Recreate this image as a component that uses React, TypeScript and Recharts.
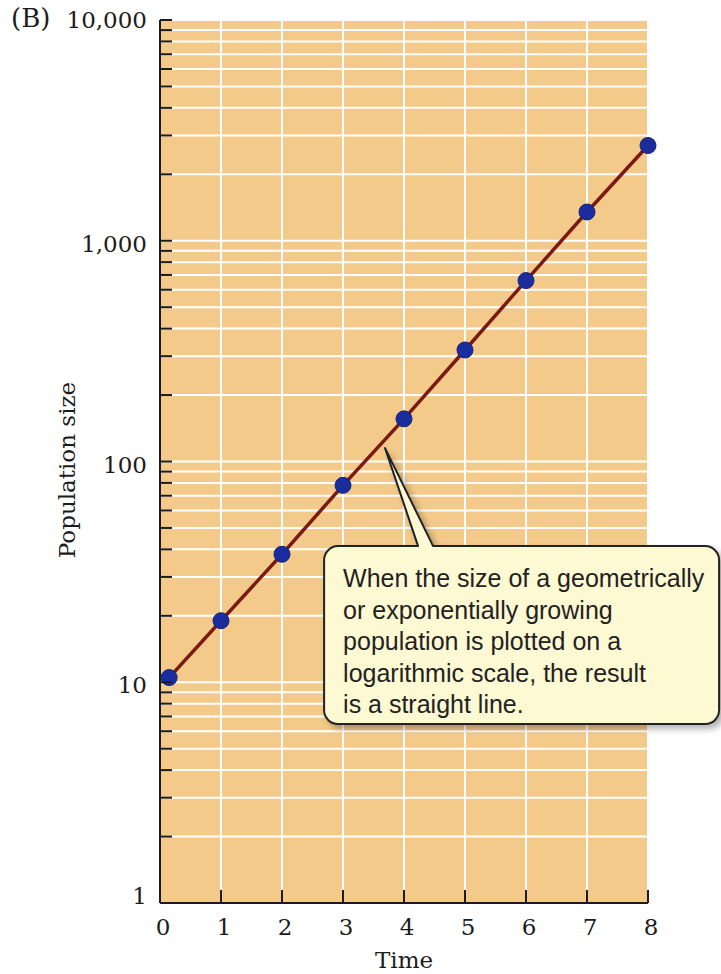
import { LineChart, Line, XAxis, YAxis, CartesianGrid, ReferenceDot, Label } from 'recharts';

const times = [0.15, 1, 2, 3, 4, 5, 6, 7, 8];
const populationSizes = [10.5, 19, 38, 78, 156, 320, 660, 1350, 2700];
const timeTicks = [0, 1, 2, 3, 4, 5, 6, 7, 8];
const majorTicks = [1, 10, 100, 1000, 10000];
const minorMultiples = [2, 3, 4, 5, 6, 7, 8, 9];
const calloutLines = [
  'When the size of a geometrically',
  'or exponentially growing',
  'population is plotted on a',
  'logarithmic scale, the result',
  'is a straight line.',
];

const data = times.map((time, i) => ({ time, size: populationSizes[i] }));
const sizeTicks = majorTicks.flatMap((m, i) =>
  i === majorTicks.length - 1 ? [m] : [m, ...minorMultiples.map((k) => k * m)]
);

const serif = 'DejaVu Serif';
const ink = '#1c1c1c';

function SizeTick({ x, y, payload }: any) {
  const v = payload.value;
  const major = majorTicks.includes(v);
  // the ends of the scale sit a bit inward, the middle labels a bit low
  const shift = v === 1 ? -7 : v === 10000 ? 0 : 3;
  return (
    <g>
      <line x1={x} x2={x + 12} y1={y} y2={y} stroke={ink} strokeWidth={2} />
      {major && (
        <text x={x - 13} y={y + shift} dy="0.35em" textAnchor="end" fontFamily={serif} fontSize={23} fill={ink}>
          {v.toLocaleString('en-US')}
        </text>
      )}
    </g>
  );
}

function TimeTick({ x, y, payload }: any) {
  return (
    <g>
      <line x1={x} x2={x} y1={y} y2={y - 13} stroke={ink} strokeWidth={2} />
      <text x={x + 3} y={y + 24} dy="0.35em" textAnchor="middle" fontFamily={serif} fontSize={23} fill={ink}>
        {payload.value}
      </text>
    </g>
  );
}

function Callout({ cx, cy }: any) {
  const left = cx - 61;
  const top = cy + 98;
  const right = cx + 334;
  const bottom = cy + 276;
  const r = 14;
  const d = `M${left + r},${top} L${cx + 33},${top} L${cx},${cy} L${cx + 48},${top} L${right - r},${top}
    A${r},${r} 0 0 1 ${right},${top + r} L${right},${bottom - r} A${r},${r} 0 0 1 ${right - r},${bottom}
    L${left + r},${bottom} A${r},${r} 0 0 1 ${left},${bottom - r} L${left},${top + r}
    A${r},${r} 0 0 1 ${left + r},${top} Z`;
  return (
    <g>
      <defs>
        <filter id="calloutShadow" x="-10%" y="-10%" width="130%" height="130%">
          <feDropShadow dx="4" dy="4" stdDeviation="3" floodColor="#000" floodOpacity="0.3" />
        </filter>
      </defs>
      <path d={d} fill="#fdf9d3" stroke="#222" strokeWidth={2} strokeLinejoin="round" filter="url(#calloutShadow)" />
      {calloutLines.map((line, i) => (
        <text key={i} x={left + 19} y={top + 41 + i * 31.5} fontFamily="Liberation Sans" fontSize={25} fill="#222">
          {line}
        </text>
      ))}
    </g>
  );
}

export default function App() {
  return (
    <div style={{ position: 'absolute', left: 0, top: 0, width: 721, height: 974, background: '#fff' }}>
      <div
        style={{
          position: 'absolute',
          left: 11,
          top: 4,
          fontFamily: serif,
          fontSize: 26,
          lineHeight: '28px',
          color: ink,
        }}
      >
        (B)
      </div>
      <LineChart width={721} height={974} data={data} margin={{ top: 20, right: 73, bottom: 0, left: 0 }}>
        <CartesianGrid stroke="#ffffff" strokeWidth={2} fill="#f4ca8a" fillOpacity={1} />
        <XAxis
          dataKey="time"
          type="number"
          domain={[0, 8]}
          ticks={timeTicks}
          interval={0}
          height={71}
          tickSize={0}
          tickMargin={0}
          tickLine={false}
          tick={<TimeTick />}
          axisLine={{ stroke: ink, strokeWidth: 2 }}
        >
          <Label value="Time" position="insideBottom" offset={6} fontFamily={serif} fontSize={23} fill={ink} />
        </XAxis>
        <YAxis
          type="number"
          scale="log"
          domain={[1, 10000]}
          allowDataOverflow
          ticks={sizeTicks}
          interval={0}
          width={160}
          tickSize={0}
          tickMargin={0}
          tickLine={false}
          tick={<SizeTick />}
          axisLine={{ stroke: ink, strokeWidth: 2 }}
        >
          <Label
            content={() => (
              <text
                x={67}
                y={470}
                transform="rotate(-90 67 470)"
                textAnchor="middle"
                dominantBaseline="central"
                fontFamily={serif}
                fontSize={23}
                fill={ink}
              >
                Population size
              </text>
            )}
          />
        </YAxis>
        <Line
          dataKey="size"
          type="linear"
          stroke="#7a1a12"
          strokeWidth={3.5}
          dot={{ r: 8, fill: '#1b2d9e', stroke: '#13237f', strokeWidth: 1 }}
          activeDot={false}
          isAnimationActive={false}
        />
        <ReferenceDot x={3.69} y={115} shape={<Callout />} />
      </LineChart>
    </div>
  );
}
